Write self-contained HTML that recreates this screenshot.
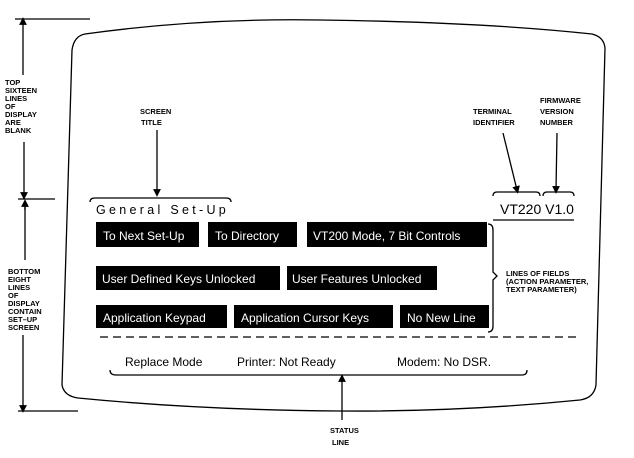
<!DOCTYPE html>
<html><head><style>
html,body{margin:0;padding:0;background:#fff;}
svg{display:block;}
text{font-family:"Liberation Sans",sans-serif;fill:#000;}
.s{font-size:7.5px;font-weight:bold;}
.b{font-size:12px;fill:#fff;}
.t{font-size:12px;}
</style></head><body>
<svg width="634" height="458" viewBox="0 0 634 458" xmlns="http://www.w3.org/2000/svg">
<defs><marker id="a" markerWidth="6" markerHeight="6" refX="3" refY="3" orient="auto"><path d="M0,0 L6,3 L0,6 z" fill="#000"/></marker></defs>
<g stroke="#000" fill="none" stroke-width="1.3">
<!-- screen outline -->
<path d="M62,385 L72,50 Q74,36 85,34 Q200,18 320,20 Q480,22 592,34 Q604,37 605,48 L596,385 Q594,398 580,400 Q460,412 340,411 Q200,410 78,398 Q64,396 62,385 Z"/>
<!-- left dimension -->
<line x1="15" y1="19" x2="90" y2="19"/>
<line x1="23" y1="75" x2="23" y2="21" marker-end="url(#a)"/>
<line x1="24" y1="142" x2="24" y2="196" marker-end="url(#a)"/>
<line x1="18" y1="199" x2="55" y2="199"/>
<line x1="25" y1="202" x2="25" y2="260" />
<line x1="25" y1="210" x2="25" y2="203" marker-end="url(#a)"/>
<line x1="23" y1="335" x2="23" y2="409" marker-end="url(#a)"/>
<line x1="18" y1="411" x2="78" y2="411"/>
<!-- screen title -->
<line x1="157" y1="130" x2="157" y2="193" marker-end="url(#a)"/>
<path d="M90,202 Q90,198 95,198 L226,198 Q231,198 231,202"/>
<!-- terminal id / firmware -->
<line x1="503" y1="133" x2="517" y2="190" marker-end="url(#a)"/>
<line x1="557" y1="133" x2="556" y2="190" marker-end="url(#a)"/>
<path d="M493,196 Q493,192 497,192 L536,192 Q540,192 540,196"/>
<path d="M543,196 Q543,192 547,192 L570,192 Q574,192 574,196"/>
<line x1="493" y1="220" x2="574" y2="220"/>
<!-- right brace -->
<path d="M488,224 Q493,224 493,230 L493,272 L497,276 L493,280 L493,326 Q493,332 488,332"/>
<!-- dashed -->
<line x1="100" y1="337" x2="578" y2="337" stroke-dasharray="8,5"/>
<!-- status brace -->
<path d="M110,370 Q110,375 116,375 L522,375 Q527,375 527,370"/>
<line x1="342" y1="420" x2="342" y2="378" marker-end="url(#a)"/>
</g>
<!-- left labels -->
<text class="s" x="5" y="85">TOP</text>
<text class="s" x="5" y="93">SIXTEEN</text>
<text class="s" x="5" y="101">LINES</text>
<text class="s" x="5" y="109">OF</text>
<text class="s" x="5" y="117">DISPLAY</text>
<text class="s" x="5" y="125">ARE</text>
<text class="s" x="5" y="133">BLANK</text>
<text class="s" x="8" y="274">BOTTOM</text>
<text class="s" x="8" y="282">EIGHT</text>
<text class="s" x="8" y="290">LINES</text>
<text class="s" x="8" y="298">OF</text>
<text class="s" x="8" y="306">DISPLAY</text>
<text class="s" x="8" y="314">CONTAIN</text>
<text class="s" x="8" y="322">SET–UP</text>
<text class="s" x="8" y="330">SCREEN</text>
<text class="s" x="140" y="114">SCREEN</text>
<text class="s" x="141" y="125">TITLE</text>
<text class="s" x="473" y="114">TERMINAL</text>
<text class="s" x="473" y="125">IDENTIFIER</text>
<text class="s" x="540" y="103">FIRMWARE</text>
<text class="s" x="540" y="114">VERSION</text>
<text class="s" x="540" y="125">NUMBER</text>
<text class="s" x="506" y="276">LINES OF FIELDS</text>
<text class="s" x="506" y="284">(ACTION PARAMETER,</text>
<text class="s" x="506" y="292">TEXT PARAMETER)</text>
<text class="s" x="330" y="433">STATUS</text>
<text class="s" x="332" y="445">LINE</text>
<text x="96" y="214" style="font-size:12.5px;letter-spacing:3.3px">General Set-Up</text>
<text x="500" y="214" style="font-size:14px">VT220 V1.0</text>
<!-- boxes -->
<g fill="#000">
<rect x="96" y="222" width="103" height="25"/>
<rect x="208" y="222" width="89" height="25"/>
<rect x="307" y="222" width="180" height="25"/>
<rect x="96" y="266" width="184" height="24"/>
<rect x="287" y="266" width="150" height="24"/>
<rect x="96" y="305" width="131" height="23"/>
<rect x="234" y="305" width="159" height="23"/>
<rect x="400" y="305" width="89" height="23"/>
</g>
<text class="b" x="103" y="240">To Next Set-Up</text>
<text class="b" x="215" y="240">To Directory</text>
<text class="b" x="313" y="240">VT200 Mode, 7 Bit Controls</text>
<text class="b" x="102" y="283">User Defined Keys Unlocked</text>
<text class="b" x="292" y="283">User Features Unlocked</text>
<text class="b" x="103" y="322">Application Keypad</text>
<text class="b" x="241" y="322">Application Cursor Keys</text>
<text class="b" x="407" y="322">No New Line</text>
<text class="t" x="125" y="366">Replace Mode</text>
<text class="t" x="237" y="366">Printer: Not  Ready</text>
<text class="t" x="397" y="366">Modem:  No  DSR.</text>
</svg>
</body></html>
